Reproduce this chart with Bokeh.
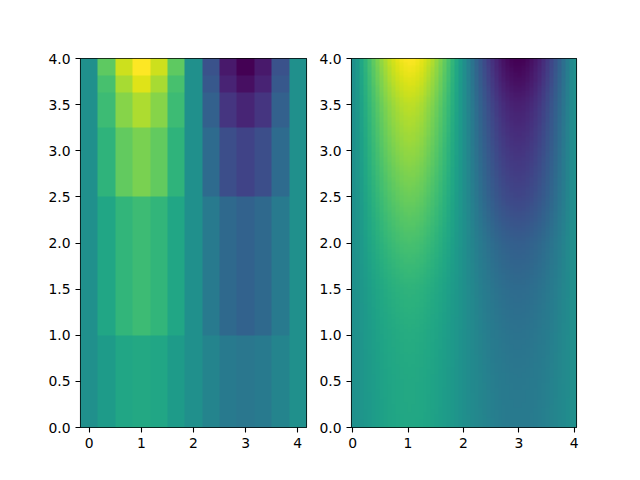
from bokeh.embed import file_html
from bokeh.resources import INLINE
from bokeh.layouts import row
from bokeh.models import FixedTicker, LinearColorMapper, Range1d
from bokeh.palettes import Viridis256
from bokeh.plotting import figure
import numpy as np

# Left panel: values read per cell, bottom row first, on a -1..1 colour scale
x_nodes = [0, 1/3, 2/3, 1, 4/3, 5/3, 2, 7/3, 8/3, 3, 10/3, 11/3, 4]
x_edges = [-0.167, 0.167, 0.5, 0.833, 1.167, 1.5, 1.833, 2.167, 2.5, 2.833, 3.167, 3.5, 3.833, 4.167]
y_edges = [0, 1, 2.5, 3.25, 3.635, 3.816, 4]
z_left = [
    [0, .10, .18, .21, .18, .10, 0, -.10, -.18, -.21, -.18, -.10, 0],
    [0, .18, .32, .37, .32, .18, 0, -.18, -.32, -.37, -.32, -.18, 0],
    [0, .30, .52, .60, .52, .30, 0, -.30, -.52, -.60, -.52, -.30, 0],
    [0, .37, .64, .75, .64, .37, 0, -.38, -.69, -.79, -.69, -.38, 0],
    [0, .42, .74, .90, .74, .42, 0, -.45, -.80, -.92, -.80, -.45, 0],
    [0, .50, .85, 1.0, .85, .50, 0, -.50, -.86, -1.0, -.86, -.50, 0],
]

y_read = [0, .5, 1, 1.5, 2, 2.5, 3, 3.5, 3.75, 4]
strength_pos = [.20, .21, .24, .30, .42, .55, .68, .80, .90, 1.0]
strength_neg = [.18, .20, .24, .30, .40, .58, .70, .82, .92, 1.0]
x_ticks = [0, 1, 2, 3, 4]
y_ticks = [0, .5, 1, 1.5, 2, 2.5, 3, 3.5, 4]
y_labels = ["0.0", "0.5", "1.0", "1.5", "2.0", "2.5", "3.0", "3.5", "4.0"]

mapper = LinearColorMapper(palette=Viridis256, low=-1, high=1)
FW, FH = 226, 369


def style(p):
    p.grid.visible = False
    for ax in (p.xaxis[0], p.yaxis[0]):
        ax.axis_line_color = None
        ax.major_tick_in = 0
        ax.major_tick_out = 5
        ax.major_tick_line_color = "black"
        ax.major_tick_line_width = 1.1
        ax.minor_tick_line_color = None
        ax.major_label_text_font = "DejaVu Sans"
        ax.major_label_text_font_size = "13.9px"
        ax.major_label_text_color = "black"
        ax.major_label_standoff = 5
    p.xaxis[0].ticker = FixedTicker(ticks=x_ticks)
    p.yaxis[0].ticker = FixedTicker(ticks=y_ticks)
    p.xaxis[0].major_label_overrides = {t: str(t) for t in x_ticks}
    p.yaxis[0].major_label_overrides = dict(zip(y_ticks, y_labels))
    p.outline_line_color = "black"
    p.outline_line_width = 1.1


left = figure(frame_width=FW, frame_height=FH, x_range=Range1d(x_edges[0], x_edges[-1]), y_range=Range1d(0, 4),
              output_backend="svg", toolbar_location=None,
              min_border_left=80, min_border_right=10, min_border_top=58, min_border_bottom=45)
# one pixel per image sample, so the uneven rows stay crisp and seamless
px = np.linspace(x_edges[0], x_edges[-1], FW, endpoint=False) + (x_edges[-1] - x_edges[0]) / FW / 2
py = np.linspace(0, 4, FH, endpoint=False) + 2 / FH
ci = np.clip(np.searchsorted(x_edges, px) - 1, 0, 12)
ri = np.clip(np.searchsorted(y_edges, py) - 1, 0, 5)
left.image(image=[np.array(z_left)[ri][:, ci]], x=x_edges[0], y=0, dw=x_edges[-1] - x_edges[0], dh=4, color_mapper=mapper)
style(left)

# Right panel: smooth rendering of the left panel's top row along x
x_range_right = (-0.02, 4.04)
xs = np.linspace(*x_range_right, 57)
ys = np.linspace(0, 4, 148)
prof = np.array(z_left[-1])
u = np.clip(xs, 0, 4) / (1 / 3)
k = np.minimum(u.astype(int), 11)
f = u - k
pad = np.concatenate([[2 * prof[0] - prof[1]], prof, [2 * prof[-1] - prof[-2]]])
p0, p1, p2, p3 = pad[k], pad[k + 1], pad[k + 2], pad[k + 3]
profile = 0.5 * (2 * p1 + (p2 - p0) * f + (2 * p0 - 5 * p1 + 4 * p2 - p3) * f**2 + (3 * p1 - p0 - 3 * p2 + p3) * f**3)
s_pos = np.interp(ys, y_read, strength_pos)
s_neg = np.interp(ys, y_read, strength_neg)
field = np.where(profile[None, :] >= 0, s_pos[:, None], s_neg[:, None]) * profile[None, :]
field = field[(np.arange(FH) * 148 // FH)][:, (np.arange(225) * 57 // 225)]

right = figure(frame_width=225, frame_height=FH, x_range=Range1d(*x_range_right), y_range=Range1d(0, 4),
               output_backend="svg", toolbar_location=None,
               min_border_left=35, min_border_right=20, min_border_top=58, min_border_bottom=45)
right.image(image=[field], x=x_range_right[0], y=0, dw=x_range_right[1] - x_range_right[0], dh=4, color_mapper=mapper)
style(right)

page = row(left, right, spacing=0)
open("out.html", "w").write(file_html(page, INLINE))
